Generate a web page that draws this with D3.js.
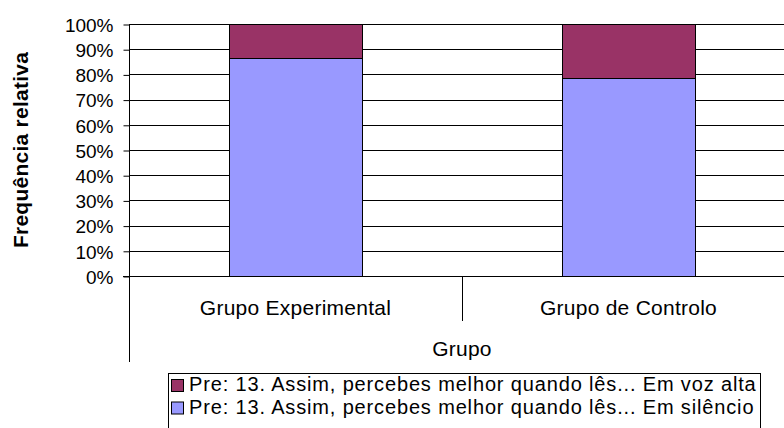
<!DOCTYPE html>
<html><head><meta charset="utf-8">
<script src="https://cdn.jsdelivr.net/npm/d3@7"></script>
<style>
html,body{margin:0;padding:0;background:#fff;}
svg text{font-family:"Liberation Sans",Arial,Helvetica,sans-serif;fill:#000;}
</style></head>
<body><svg id="c" width="784" height="428"></svg>
<script>
const categories = ["Grupo Experimental", "Grupo de Controlo"];
const seriesNames = [
  "Pre: 13. Assim, percebes melhor quando lês... Em silêncio",
  "Pre: 13. Assim, percebes melhor quando lês... Em voz alta"
];
const emSilencio = [86.67, 78.57];
const emVozAlta = [13.33, 21.43];
const yTicks = [0,10,20,30,40,50,60,70,80,90,100];
const colors = ["#9999FF", "#993366"];
const xTitle = "Grupo";
const yTitle = "Frequência relativa";

const svg = d3.select("#c");
const L = 129, T = 24, B = 276, R = 795;
const x = d3.scaleBand().domain(categories).range([L, R]).paddingInner(0.6).paddingOuter(0.3);
const y = d3.scaleLinear().domain([0, 100]).range([B, T]);

// gridlines
svg.append("g").selectAll("line").data(yTicks).join("line")
  .attr("x1", L).attr("x2", 784).attr("y1", d => Math.round(y(d)) + 0.5).attr("y2", d => Math.round(y(d)) + 0.5)
  .attr("stroke", "#000").attr("stroke-width", 1);

// stacked bars
const rows = categories.map((c, i) => ({cat: c, s0: emSilencio[i], s1: emVozAlta[i]}));
const stack = d3.stack().keys(["s0", "s1"])(rows);
svg.append("g").selectAll("g").data(stack).join("g")
  .attr("fill", (d, i) => colors[i])
  .selectAll("rect").data(d => d).join("rect")
  .attr("x", d => Math.round(x(d.data.cat)) + 0.5)
  .attr("width", Math.round(x.bandwidth()))
  .attr("y", d => Math.round(y(d[1])) + 0.5)
  .attr("height", d => Math.round(y(d[0])) - Math.round(y(d[1])))
  .attr("stroke", "#000").attr("stroke-width", 1);

// y axis
const yAxis = d3.axisLeft(y).tickValues(yTicks).tickFormat(d => d + "%").tickSize(6).tickPadding(10);
const gy = svg.append("g").attr("transform", `translate(${L + 0.5},0.5)`).call(yAxis);
gy.select(".domain").remove();
gy.selectAll(".tick line").attr("stroke", "#000");
gy.selectAll(".tick text").attr("font-size", 19)
  .attr("font-family", "Liberation Sans, Arial, sans-serif").attr("fill", "#000").attr("dy", "0.36em");

// left axis line (extended down through category area)
svg.append("line").attr("x1", L + 0.5).attr("x2", L + 0.5).attr("y1", T).attr("y2", 362)
  .attr("stroke", "#000").attr("stroke-width", 1);

// x axis line
svg.append("line").attr("x1", L - 6).attr("x2", 784).attr("y1", B + 0.5).attr("y2", B + 0.5)
  .attr("stroke", "#000").attr("stroke-width", 1);

// category dividers
const dividers = categories.slice(1).map(c => x(c) - x.step() * x.paddingInner() / 2);
svg.append("g").selectAll("line").data(dividers).join("line")
  .attr("x1", d => Math.round(d) + 0.5).attr("x2", d => Math.round(d) + 0.5)
  .attr("y1", B).attr("y2", 321).attr("stroke", "#000");

// category labels
svg.append("g").selectAll("text").data(categories).join("text")
  .attr("x", d => x(d) + x.bandwidth() / 2).attr("y", 315)
  .attr("text-anchor", "middle").attr("font-size", 21).attr("letter-spacing", "0.25px")
  .text(d => d);

// x title
svg.append("text").attr("x", (L + R) / 2).attr("y", 356).attr("text-anchor", "middle")
  .attr("font-size", 21).attr("letter-spacing", "0.25px").text(xTitle);

// y title
svg.append("text").attr("transform", "translate(28,150) rotate(-90)").attr("text-anchor", "middle")
  .attr("font-size", 21).attr("font-weight", "bold").attr("letter-spacing", "0.25px").text(yTitle);

// legend
const lg = svg.append("g");
lg.append("rect").attr("x", 168.5).attr("y", 373.5).attr("width", 592).attr("height", 60)
  .attr("fill", "#fff").attr("stroke", "#000");
const legendItems = [1, 0];
const lr = lg.selectAll("g").data(legendItems).join("g")
  .attr("transform", (d, i) => `translate(0,${i * 22.5})`);
lr.append("rect").attr("x", 171.5).attr("y", 379.5).attr("width", 12).attr("height", 12)
  .attr("fill", d => colors[d]).attr("stroke", "#000");
lr.append("text").attr("x", 189).attr("y", 391).attr("font-size", 20).attr("letter-spacing", "0.85px")
  .text(d => seriesNames[d]);
</script></body></html>
